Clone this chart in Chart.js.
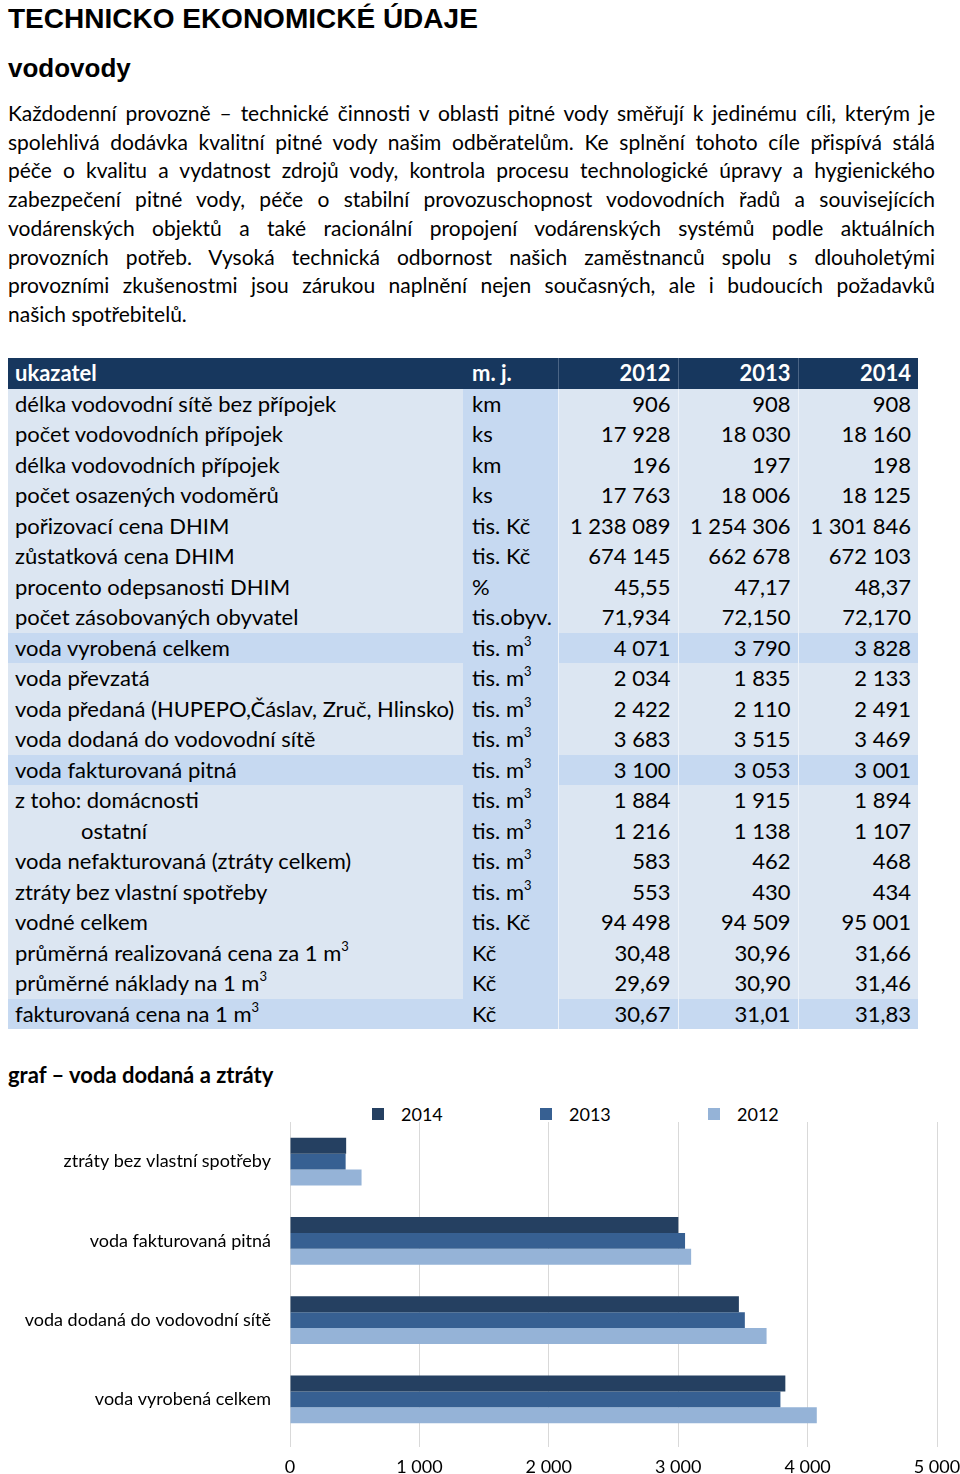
<!DOCTYPE html>
<html lang="cs">
<head>
<meta charset="UTF-8" />
<title>Technicko ekonomické údaje – vodovody</title>
<script src="https://cdn.jsdelivr.net/npm/chart.js"></script>
<style>
  html, body { margin: 0; padding: 0; overflow: hidden; background: #fff; }
  body {
    width: 960px;
    height: 1474px;
    position: relative;
    font-family: Lato, 'Open Sans', sans-serif;
    color: #000;
  }
  h1, h2 {
    position: absolute;
    left: 8px;
    margin: 0;
    font-family: 'Liberation Sans', Arial, sans-serif;
    font-weight: bold;
  }
  h1 { top: 4px; font-size: 28px; line-height: 30px; }
  h2 { top: 53px; font-size: 26px; line-height: 30px; }
  .text {
    position: absolute;
    left: 8px;
    top: 99px;
    width: 927px;
    font-size: 21px;
    line-height: 28.7px;
  }
  .text div { text-align: justify; text-align-last: justify; white-space: nowrap; }
  .text div.last { text-align-last: left; }
  table {
    position: absolute;
    left: 8px;
    top: 358px;
    width: 910px;
    border-collapse: collapse;
    table-layout: fixed;
    font-size: 22px;
  }
  tr { height: 30.5px; }
  td, th { padding: 0; white-space: nowrap; line-height: 28px; }
  th { background: #17375e; color: #fff; font-weight: bold; text-align: left; }
  td { background: #dce6f2; }
  td.mj, tr.hl td { background: #c6d9f1; }
  .c1 { padding-left: 7px; }
  .mj { padding-left: 9px; }
  .num { text-align: right; padding-right: 7px; border-left: 1px solid #eef3f9; }
  th.num { border-left: 1px solid #4a6485; }
  .ind { padding-left: 66px; }
  sup { font-size: 13px; line-height: 0; vertical-align: 10px; }
  .graf {
    position: absolute;
    left: 8px;
    top: 1061px;
    margin: 0;
    font-size: 22px;
    line-height: 28px;
    font-weight: bold;
  }
  #legend { position: absolute; left: 0; top: 1104px; width: 960px; height: 20px; font-size: 18px; }
  #legend span.box { position: absolute; top: 4px; width: 12px; height: 12px; }
  #legend span.lbl { position: absolute; top: 0; line-height: 20px; }
  #chartBox { position: absolute; left: 0; top: 1095px; width: 960px; height: 379px; }
</style>
</head>
<body>
<h1>TECHNICKO EKONOMICKÉ ÚDAJE</h1>
<h2>vodovody</h2>
<div class="text">
  <div>Každodenní provozně – technické činnosti v oblasti pitné vody směřují k jedinému cíli, kterým je</div>
  <div>spolehlivá dodávka kvalitní pitné vody našim odběratelům. Ke splnění tohoto cíle přispívá stálá</div>
  <div>péče o kvalitu a vydatnost zdrojů vody, kontrola procesu technologické úpravy a hygienického</div>
  <div>zabezpečení pitné vody, péče o stabilní provozuschopnost vodovodních řadů a souvisejících</div>
  <div>vodárenských objektů a také racionální propojení vodárenských systémů podle aktuálních</div>
  <div>provozních potřeb. Vysoká technická odbornost našich zaměstnanců spolu s dlouholetými</div>
  <div>provozními zkušenostmi jsou zárukou naplnění nejen současných, ale i budoucích požadavků</div>
  <div class="last">našich spotřebitelů.</div>
</div>

<table id="tab">
  <colgroup>
    <col style="width:455px"><col style="width:95px"><col style="width:120px"><col style="width:120px"><col style="width:120px">
  </colgroup>
  <thead>
    <tr><th class="c1">ukazatel</th><th class="mj">m. j.</th><th class="num">2012</th><th class="num">2013</th><th class="num">2014</th></tr>
  </thead>
  <tbody></tbody>
</table>

<div class="graf">graf – voda dodaná a ztráty</div>
<div id="legend"></div>
<div id="chartBox"><canvas id="chart"></canvas></div>

<script>
  // tabulka: ukazatel, m. j., 2012, 2013, 2014, zvýraznění
  const M3 = 'm<sup>3</sup>';
  const tableRows = [
    ['délka vodovodní sítě bez přípojek', 'km', '906', '908', '908', 0],
    ['počet vodovodních přípojek', 'ks', '17 928', '18 030', '18 160', 0],
    ['délka vodovodních přípojek', 'km', '196', '197', '198', 0],
    ['počet osazených vodoměrů', 'ks', '17 763', '18 006', '18 125', 0],
    ['pořizovací cena DHIM', 'tis. Kč', '1 238 089', '1 254 306', '1 301 846', 0],
    ['zůstatková cena DHIM', 'tis. Kč', '674 145', '662 678', '672 103', 0],
    ['procento odepsanosti DHIM', '%', '45,55', '47,17', '48,37', 0],
    ['počet zásobovaných obyvatel', 'tis.obyv.', '71,934', '72,150', '72,170', 0],
    ['voda vyrobená celkem', 'tis. ' + M3, '4 071', '3 790', '3 828', 1],
    ['voda převzatá', 'tis. ' + M3, '2 034', '1 835', '2 133', 0],
    ['voda předaná (HUPEPO,Čáslav, Zruč, Hlinsko)', 'tis. ' + M3, '2 422', '2 110', '2 491', 0],
    ['voda dodaná do vodovodní sítě', 'tis. ' + M3, '3 683', '3 515', '3 469', 0],
    ['voda fakturovaná pitná', 'tis. ' + M3, '3 100', '3 053', '3 001', 1],
    ['z toho: domácnosti', 'tis. ' + M3, '1 884', '1 915', '1 894', 0],
    ['<span class="ind">ostatní</span>', 'tis. ' + M3, '1 216', '1 138', '1 107', 0],
    ['voda nefakturovaná (ztráty celkem)', 'tis. ' + M3, '583', '462', '468', 0],
    ['ztráty bez vlastní spotřeby', 'tis. ' + M3, '553', '430', '434', 0],
    ['vodné celkem', 'tis. Kč', '94 498', '94 509', '95 001', 0],
    ['průměrná realizovaná cena za 1 ' + M3, 'Kč', '30,48', '30,96', '31,66', 0],
    ['průměrné náklady na 1 ' + M3, 'Kč', '29,69', '30,90', '31,46', 0],
    ['fakturovaná cena na 1 ' + M3, 'Kč', '30,67', '31,01', '31,83', 1]
  ];

  const tbody = document.querySelector('#tab tbody');
  tableRows.forEach(r => {
    tbody.innerHTML += `<tr class="${r[5] ? 'hl' : ''}"><td class="c1">${r[0]}</td><td class="mj">${r[1]}</td>` +
      `<td class="num">${r[2]}</td><td class="num">${r[3]}</td><td class="num">${r[4]}</td></tr>`;
  });

  // graf
  const categories = ['ztráty bez vlastní spotřeby', 'voda fakturovaná pitná', 'voda dodaná do vodovodní sítě', 'voda vyrobená celkem'];
  const seriesLabels = ['2014', '2013', '2012'];
  const values2014 = [434, 3001, 3469, 3828];
  const values2013 = [430, 3053, 3515, 3790];
  const values2012 = [553, 3100, 3683, 4071];
  const seriesColors = ['#254061', '#376092', '#95b3d7'];
  const xTickLabels = ['0', '1 000', '2 000', '3 000', '4 000', '5 000'];

  const legend = document.getElementById('legend');
  seriesLabels.forEach((s, i) => {
    const x = 372 + i * 168;
    legend.innerHTML += `<span class="box" style="left:${x}px;background:${seriesColors[i]}"></span>` +
      `<span class="lbl" style="left:${x + 29}px">${s}</span>`;
  });

  const font = { family: 'Lato', size: 18 };

  new Chart(document.getElementById('chart'), {
    type: 'bar',
    data: {
      labels: categories,
      datasets: [values2014, values2013, values2012].map((d, i) => ({
        label: seriesLabels[i],
        data: d,
        backgroundColor: seriesColors[i],
        borderWidth: 0,
        barPercentage: 1,
        categoryPercentage: 0.6
      }))
    },
    options: {
      indexAxis: 'y',
      responsive: true,
      maintainAspectRatio: false,
      animation: false,
      layout: { padding: { top: 27, right: 23, left: 0, bottom: 0 } },
      plugins: {
        legend: { display: false },
        tooltip: { enabled: false }
      },
      scales: {
        x: {
          min: 0,
          max: 5000,
          ticks: {
            stepSize: 1000,
            color: '#000',
            font: font,
            padding: 9,
            maxRotation: 0,
            callback: (v, i) => xTickLabels[i]
          },
          grid: { color: '#d9d9d9', tickLength: 8 },
          border: { display: false },
          afterFit: s => { s.height = 35; s.paddingLeft = 0; s.paddingRight = 0; }
        },
        y: {
          ticks: { color: '#000', font: font, padding: 11 },
          grid: { display: false },
          border: { display: false },
          afterFit: s => { s.width = 290; }
        }
      }
    }
  });
</script>
</body>
</html>
